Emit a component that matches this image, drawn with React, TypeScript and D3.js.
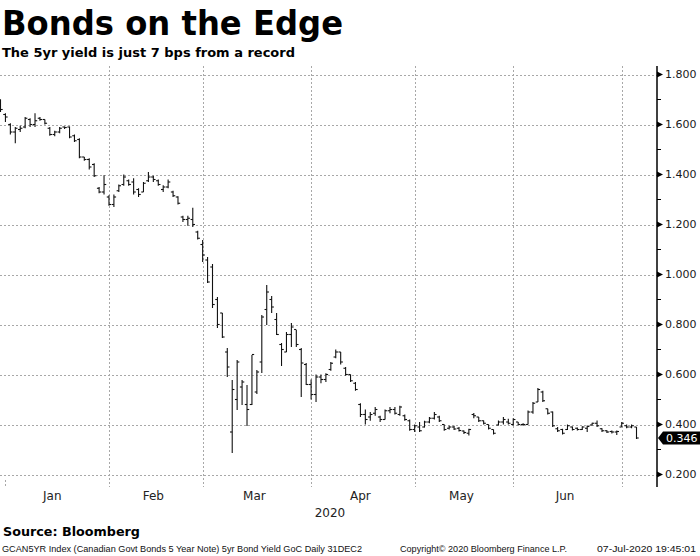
import React from "react";
import * as d3 from "d3";

type Bar = [number, number, number, number]; // open, high, low, close

const dec31: Bar[] = [[1.7, 1.7, 1.65, 1.66]];
const jan: Bar[] = [
  [1.64, 1.645, 1.61, 1.63], [1.6, 1.605, 1.56, 1.57], [1.57, 1.59, 1.525, 1.585],
  [1.58, 1.595, 1.57, 1.585], [1.59, 1.63, 1.585, 1.625], [1.62, 1.625, 1.59, 1.6],
  [1.6, 1.645, 1.59, 1.615], [1.625, 1.63, 1.615, 1.62], [1.62, 1.62, 1.6, 1.605],
  [1.585, 1.59, 1.555, 1.56], [1.56, 1.575, 1.553, 1.57], [1.57, 1.59, 1.565, 1.585],
  [1.59, 1.592, 1.582, 1.588], [1.59, 1.592, 1.545, 1.55], [1.555, 1.56, 1.53, 1.535],
  [1.54, 1.545, 1.465, 1.47], [1.47, 1.47, 1.455, 1.46], [1.46, 1.465, 1.42, 1.43],
  [1.44, 1.445, 1.39, 1.395], [1.345, 1.35, 1.325, 1.33], [1.33, 1.397, 1.32, 1.36],
];
const feb: Bar[] = [
  [1.31, 1.317, 1.275, 1.28], [1.28, 1.32, 1.27, 1.31], [1.335, 1.36, 1.33, 1.355],
  [1.36, 1.4, 1.355, 1.39], [1.375, 1.38, 1.355, 1.36], [1.37, 1.385, 1.32, 1.33],
  [1.34, 1.345, 1.31, 1.32], [1.33, 1.37, 1.33, 1.365], [1.375, 1.41, 1.37, 1.39],
  [1.39, 1.395, 1.37, 1.38], [1.375, 1.38, 1.355, 1.36], [1.34, 1.357, 1.33, 1.35],
  [1.35, 1.38, 1.345, 1.37], [1.33, 1.335, 1.31, 1.315], [1.31, 1.313, 1.28, 1.285],
  [1.23, 1.235, 1.21, 1.22], [1.22, 1.235, 1.195, 1.225], [1.22, 1.267, 1.19, 1.2],
  [1.17, 1.175, 1.14, 1.145],
];
const mar: Bar[] = [
  [1.12, 1.138, 1.05, 1.078], [1.058, 1.07, 0.966, 0.97], [1.03, 1.042, 0.866, 0.88],
  [0.9, 0.91, 0.786, 0.8], [0.846, 0.846, 0.746, 0.75], [0.69, 0.706, 0.59, 0.63],
  [0.37, 0.578, 0.286, 0.54], [0.5, 0.658, 0.458, 0.65], [0.55, 0.578, 0.478, 0.57],
  [0.48, 0.558, 0.394, 0.46], [0.48, 0.678, 0.478, 0.68], [0.53, 0.618, 0.522, 0.61],
  [0.65, 0.838, 0.606, 0.83], [0.86, 0.958, 0.798, 0.93], [0.9, 0.914, 0.846, 0.87],
  [0.82, 0.846, 0.758, 0.76], [0.72, 0.726, 0.634, 0.7], [0.69, 0.77, 0.69, 0.76],
  [0.76, 0.806, 0.71, 0.79], [0.78, 0.778, 0.71, 0.72], [0.7, 0.706, 0.51, 0.646],
  [0.64, 0.646, 0.558, 0.56],
];
const apr: Bar[] = [
  [0.56, 0.58, 0.5, 0.52], [0.52, 0.6, 0.49, 0.59], [0.59, 0.6, 0.565, 0.58],
  [0.58, 0.605, 0.57, 0.6], [0.62, 0.65, 0.615, 0.645], [0.67, 0.7, 0.665, 0.69],
  [0.69, 0.69, 0.64, 0.65], [0.625, 0.63, 0.595, 0.6], [0.6, 0.6, 0.57, 0.575],
  [0.565, 0.57, 0.535, 0.54], [0.48, 0.485, 0.43, 0.44], [0.44, 0.46, 0.4, 0.42],
  [0.43, 0.45, 0.415, 0.44], [0.445, 0.47, 0.435, 0.46], [0.43, 0.435, 0.41, 0.42],
  [0.42, 0.46, 0.42, 0.455], [0.455, 0.47, 0.445, 0.46], [0.46, 0.47, 0.44, 0.445],
  [0.44, 0.475, 0.435, 0.47], [0.435, 0.44, 0.415, 0.42], [0.415, 0.42, 0.375, 0.38],
];
const may: Bar[] = [
  [0.38, 0.4, 0.37, 0.395], [0.39, 0.41, 0.37, 0.375], [0.39, 0.415, 0.388, 0.41],
  [0.41, 0.43, 0.405, 0.425], [0.425, 0.45, 0.42, 0.44], [0.43, 0.435, 0.41, 0.415],
  [0.4, 0.4, 0.375, 0.38], [0.385, 0.395, 0.38, 0.39], [0.39, 0.395, 0.378, 0.382],
  [0.385, 0.39, 0.372, 0.376], [0.374, 0.376, 0.362, 0.368], [0.365, 0.383, 0.356, 0.38],
  [0.44, 0.446, 0.425, 0.435], [0.43, 0.43, 0.41, 0.415], [0.415, 0.416, 0.4, 0.405],
  [0.4, 0.4, 0.38, 0.385], [0.38, 0.38, 0.36, 0.365], [0.398, 0.416, 0.396, 0.41],
  [0.41, 0.43, 0.4, 0.42], [0.41, 0.423, 0.4, 0.405],
];
const jun: Bar[] = [
  [0.4, 0.425, 0.396, 0.42], [0.41, 0.41, 0.396, 0.4], [0.4, 0.405, 0.395, 0.4],
  [0.4, 0.456, 0.4, 0.45], [0.45, 0.49, 0.443, 0.485], [0.49, 0.546, 0.49, 0.54],
  [0.53, 0.535, 0.49, 0.495], [0.463, 0.463, 0.44, 0.445], [0.45, 0.452, 0.39, 0.395],
  [0.383, 0.39, 0.37, 0.375], [0.38, 0.383, 0.36, 0.365], [0.38, 0.4, 0.378, 0.395],
  [0.39, 0.392, 0.376, 0.38], [0.385, 0.388, 0.376, 0.38], [0.38, 0.393, 0.378, 0.39],
  [0.385, 0.396, 0.37, 0.392], [0.398, 0.407, 0.396, 0.405], [0.405, 0.416, 0.39, 0.395],
  [0.383, 0.385, 0.37, 0.375], [0.375, 0.377, 0.366, 0.37], [0.372, 0.376, 0.364, 0.37],
  [0.37, 0.376, 0.358, 0.372],
];
const jul: Bar[] = [
  [0.39, 0.41, 0.39, 0.405], [0.395, 0.4, 0.385, 0.39], [0.39, 0.4, 0.385, 0.395],
  [0.39, 0.39, 0.342, 0.346],
];

const monthLabels = ["Jan", "Feb", "Mar", "Apr", "May", "Jun"];
const yTicks = [0.2, 0.4, 0.6, 0.8, 1.0, 1.2, 1.4, 1.6, 1.8];
const yMinorTicks = [0.3, 0.5, 0.7, 0.9, 1.1, 1.3, 1.5, 1.7];
const lastValue = 0.346;
const yearLabel = "2020";

const months = [dec31.concat(jan), feb, mar, apr, may, jun, jul];
const bars: Bar[] = months.flat();
const monthStarts: number[] = [];
{
  let acc = 0;
  months.forEach((m) => { monthStarts.push(acc); acc += m.length; });
}

export default function App() {
  const W = 700, H = 556;
  const axisX = 657;
  const top = 66, bottom = 487;
  const x = d3.scaleLinear().domain([0, bars.length - 1]).range([0.5, 636.5]);
  const y = d3.scaleLinear().domain([0.15, 1.834]).range([bottom, top]);
  const fmt = d3.format(".3f");
  const gridStarts = monthStarts.slice(1); // Feb..Jul first trading days
  const tickStarts = [1, ...gridStarts];
  const labelX = monthLabels.map((_, k) => {
    const s = monthStarts[k];
    const e = monthStarts[k + 1] - 1;
    return x((s + e) / 2);
  });
  const ly = y(lastValue);
  const font = "'DejaVu Sans', Verdana, sans-serif";

  return (
    <svg width={W} height={H} style={{ position: "absolute", left: 0, top: 0, background: "#fff" }}>
      <rect x={0} y={0} width={W} height={H} fill="#fff" />
      <text x={2} y={35} fontFamily={font} fontWeight="bold" fontSize={33} fill="#000"
        textLength={341} lengthAdjust="spacingAndGlyphs">Bonds on the Edge</text>
      <text x={2} y={57} fontFamily={font} fontWeight="bold" fontSize={13} fill="#000"
        textLength={293} lengthAdjust="spacingAndGlyphs">The 5yr yield is just 7 bps from a record</text>

      {/* grid */}
      <g stroke="#a8a8a8" strokeWidth={1} strokeDasharray="2,2" shapeRendering="crispEdges">
        {yTicks.map((t) => (
          <line key={"h" + t} x1={0} x2={axisX} y1={Math.round(y(t)) + 0.5} y2={Math.round(y(t)) + 0.5} />
        ))}
        {gridStarts.map((i) => (
          <line key={"v" + i} x1={Math.round(x(i)) + 0.5} x2={Math.round(x(i)) + 0.5} y1={top} y2={bottom} />
        ))}
        <line x1={Math.round(x(tickStarts[0])) + 0.5} x2={Math.round(x(tickStarts[0])) + 0.5} y1={480} y2={bottom} />
      </g>

      {/* OHLC bars */}
      <g stroke="#111" strokeWidth={1.1} fill="none">
        {bars.map((b, i) => {
          const cx = x(i);
          const [o, h, l, c] = b;
          return (
            <g key={i}>
              <line x1={cx} x2={cx} y1={y(h)} y2={y(l)} />
              <line x1={cx - 2.2} x2={cx} y1={y(o)} y2={y(o)} />
              <line x1={cx} x2={cx + 2.2} y1={y(c)} y2={y(c)} />
            </g>
          );
        })}
      </g>

      {/* right axis */}
      <line x1={axisX} x2={axisX} y1={top} y2={bottom} stroke="#000" strokeWidth={1.5} />
      {yMinorTicks.map((t) => (
        <line key={"m" + t} x1={axisX} x2={axisX + 4} y1={y(t)} y2={y(t)} stroke="#000" strokeWidth={1} />
      ))}
      {yTicks.map((t) => (
        <g key={"t" + t}>
          <path d={`M${axisX},${y(t) - 3}L${axisX + 6},${y(t)}L${axisX},${y(t) + 3}Z`} fill="#000" />
          <text x={665} y={y(t)} dy="0.36em" fontFamily={font} fontSize={11} fill="#1a1a1a">{fmt(t)}</text>
        </g>
      ))}
      <path d={`M658,${ly}L663,${ly - 6.5}L700,${ly - 6.5}L700,${ly + 6.5}L663,${ly + 6.5}Z`} fill="#000" />
      <text x={666} y={ly} dy="0.36em" fontFamily={font} fontSize={11} fill="#fff">{fmt(lastValue)}</text>

      {/* x labels */}
      {monthLabels.map((m, k) => (
        <text key={m} x={labelX[k]} y={500} textAnchor="middle" fontFamily={font} fontSize={12} fill="#222">{m}</text>
      ))}
      <text x={330} y={517} textAnchor="middle" fontFamily={font} fontSize={12} fill="#222">{yearLabel}</text>

      <text x={3} y={536} fontFamily={font} fontWeight="bold" fontSize={13} fill="#000"
        textLength={137} lengthAdjust="spacingAndGlyphs">Source: Bloomberg</text>
      <g fontFamily="'Liberation Sans', Arial, sans-serif" fontSize={9} fill="#111">
        <text x={2} y={552} textLength={360} lengthAdjust="spacingAndGlyphs">GCAN5YR Index (Canadian Govt Bonds 5 Year Note) 5yr Bond Yield GoC  Daily 31DEC2</text>
        <text x={400} y={552} textLength={167} lengthAdjust="spacingAndGlyphs">Copyright© 2020 Bloomberg Finance L.P.</text>
        <text x={597} y={552} textLength={99} lengthAdjust="spacingAndGlyphs">07-Jul-2020 19:45:01</text>
      </g>
    </svg>
  );
}
